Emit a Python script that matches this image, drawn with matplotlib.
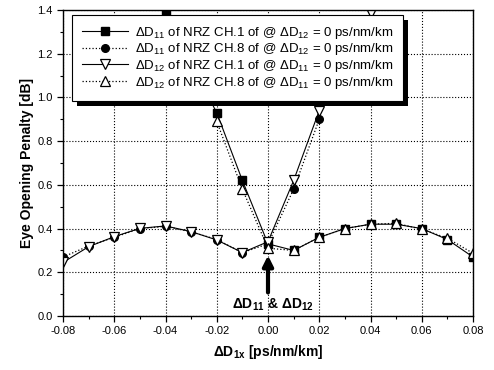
import matplotlib
matplotlib.use("Agg")
import matplotlib.pyplot as plt
from matplotlib.ticker import MultipleLocator
from matplotlib.patches import Rectangle
from matplotlib.transforms import IdentityTransform

plt.rcParams['font.family'] = ['Liberation Sans', 'DejaVu Sans']
plt.rcParams['mathtext.fontset'] = 'custom'
plt.rcParams['mathtext.rm'] = 'Liberation Sans'
plt.rcParams['mathtext.it'] = 'Liberation Sans'
plt.rcParams['mathtext.bf'] = 'Liberation Sans:bold'

# ΔD11 of NRZ CH.1 (filled squares)
sq_x = [-0.04, -0.02, -0.01, 0.00, 0.01, 0.02, 0.03, 0.04, 0.05, 0.06, 0.07, 0.08]
sq_y = [1.38, 0.93, 0.62, 0.33, 0.30, 0.36, 0.40, 0.42, 0.42, 0.40, 0.35, 0.27]
# ΔD11 of NRZ CH.8 (filled circles)
ci_x = [-0.08, -0.07, -0.06, -0.05, -0.04, -0.03, -0.02, -0.01, 0.00, 0.01, 0.02]
ci_y = [0.27, 0.32, 0.36, 0.40, 0.41, 0.385, 0.35, 0.29, 0.33, 0.58, 0.90]
# ΔD12 of NRZ CH.1 (open down triangles)
dt_x = [-0.08, -0.07, -0.06, -0.05, -0.04, -0.03, -0.02, -0.01, 0.00, 0.01, 0.02, 0.04]
dt_y = [0.245, 0.317, 0.363, 0.401, 0.412, 0.386, 0.348, 0.29, 0.34, 0.62, 0.94, 1.385]
# ΔD12 of NRZ CH.8 (open up triangles)
ut_x = [-0.02, -0.01, 0.00, 0.01, 0.02, 0.03, 0.04, 0.05, 0.06, 0.07, 0.08]
ut_y = [0.89, 0.58, 0.31, 0.30, 0.36, 0.40, 0.42, 0.424, 0.397, 0.356, 0.287]

labels = [r"$\Delta$D$_{11}$ of NRZ CH.1 of @ $\Delta$D$_{12}$ = 0 ps/nm/km",
          r"$\Delta$D$_{11}$ of NRZ CH.8 of @ $\Delta$D$_{12}$ = 0 ps/nm/km",
          r"$\Delta$D$_{12}$ of NRZ CH.1 of @ $\Delta$D$_{11}$ = 0 ps/nm/km",
          r"$\Delta$D$_{12}$ of NRZ CH.8 of @ $\Delta$D$_{11}$ = 0 ps/nm/km"]

fig = plt.figure(figsize=(4.94, 3.70), dpi=100)
ax = fig.add_axes([63/494, 1-316/370, 410/494, 306/370])

ax.plot(sq_x, sq_y, '-', color='k', lw=0.8, marker='s', ms=5.5, mfc='k', mec='k', label=labels[0])
ax.plot(ci_x, ci_y, ':', color='k', lw=0.9, marker='o', ms=5.5, mfc='k', mec='k', label=labels[1])
ax.plot(dt_x, dt_y, '-', color='k', lw=0.8, marker='v', ms=7.5, mfc='white', mec='k', mew=0.9, label=labels[2])
ax.plot(ut_x, ut_y, ':', color='k', lw=0.9, marker='^', ms=7.5, mfc='white', mec='k', mew=0.9, label=labels[3])

ax.set_xlim(-0.08, 0.08)
ax.set_ylim(0.0, 1.4)
ax.xaxis.set_major_locator(MultipleLocator(0.02))
ax.xaxis.set_minor_locator(MultipleLocator(0.01))
ax.yaxis.set_major_locator(MultipleLocator(0.2))
ax.yaxis.set_minor_locator(MultipleLocator(0.1))
ax.set_xticklabels([f"{v:.2f}" for v in ax.get_xticks()])
ax.set_yticklabels([f"{v:.1f}" for v in ax.get_yticks()])
ax.tick_params(which='major', direction='out', length=4, width=0.9, labelsize=8)
ax.tick_params(which='minor', direction='out', length=2, width=0.8)
ax.grid(True, which='major', linestyle=':', color='k', lw=0.8)
for s in ax.spines.values():
    s.set_linewidth(1.0)

ax.set_xlabel(r"$\mathbf{\Delta}$D$_{\mathbf{1x}}$ [ps/nm/km]", fontsize=10, fontweight='bold', labelpad=5)
ax.set_ylabel("Eye Opening Penalty [dB]", fontsize=10, fontweight='bold', labelpad=2)

ax.annotate("", xy=(0.0, 0.29), xytext=(0.0, 0.095),
            arrowprops=dict(arrowstyle='-|>,head_width=0.3,head_length=0.6', lw=3, color='k'))
ax.text(0.002, 0.05, r"$\mathbf{\Delta}$D$_{\mathbf{11}}$ & $\mathbf{\Delta}$D$_{\mathbf{12}}$",
        ha='center', va='center', fontsize=10, fontweight='bold')

leg = ax.legend(loc='upper left', bbox_to_anchor=(0.022, 0.984), borderaxespad=0,
                fontsize=9.5, handlelength=3.5, frameon=True, fancybox=False,
                framealpha=1, edgecolor='k',
                labelspacing=0.05, borderpad=0.75, handletextpad=0.5)
leg.get_frame().set_linewidth(0.8)

fig.canvas.draw()
bb = leg.get_window_extent()
shadow = Rectangle((bb.x0 + 5, bb.y0 - 5), bb.width, bb.height, transform=IdentityTransform(),
                   facecolor='k', edgecolor='none', zorder=leg.get_zorder() - 0.1, clip_on=False)
ax.add_artist(shadow)

fig.savefig("out.png", dpi=100)
